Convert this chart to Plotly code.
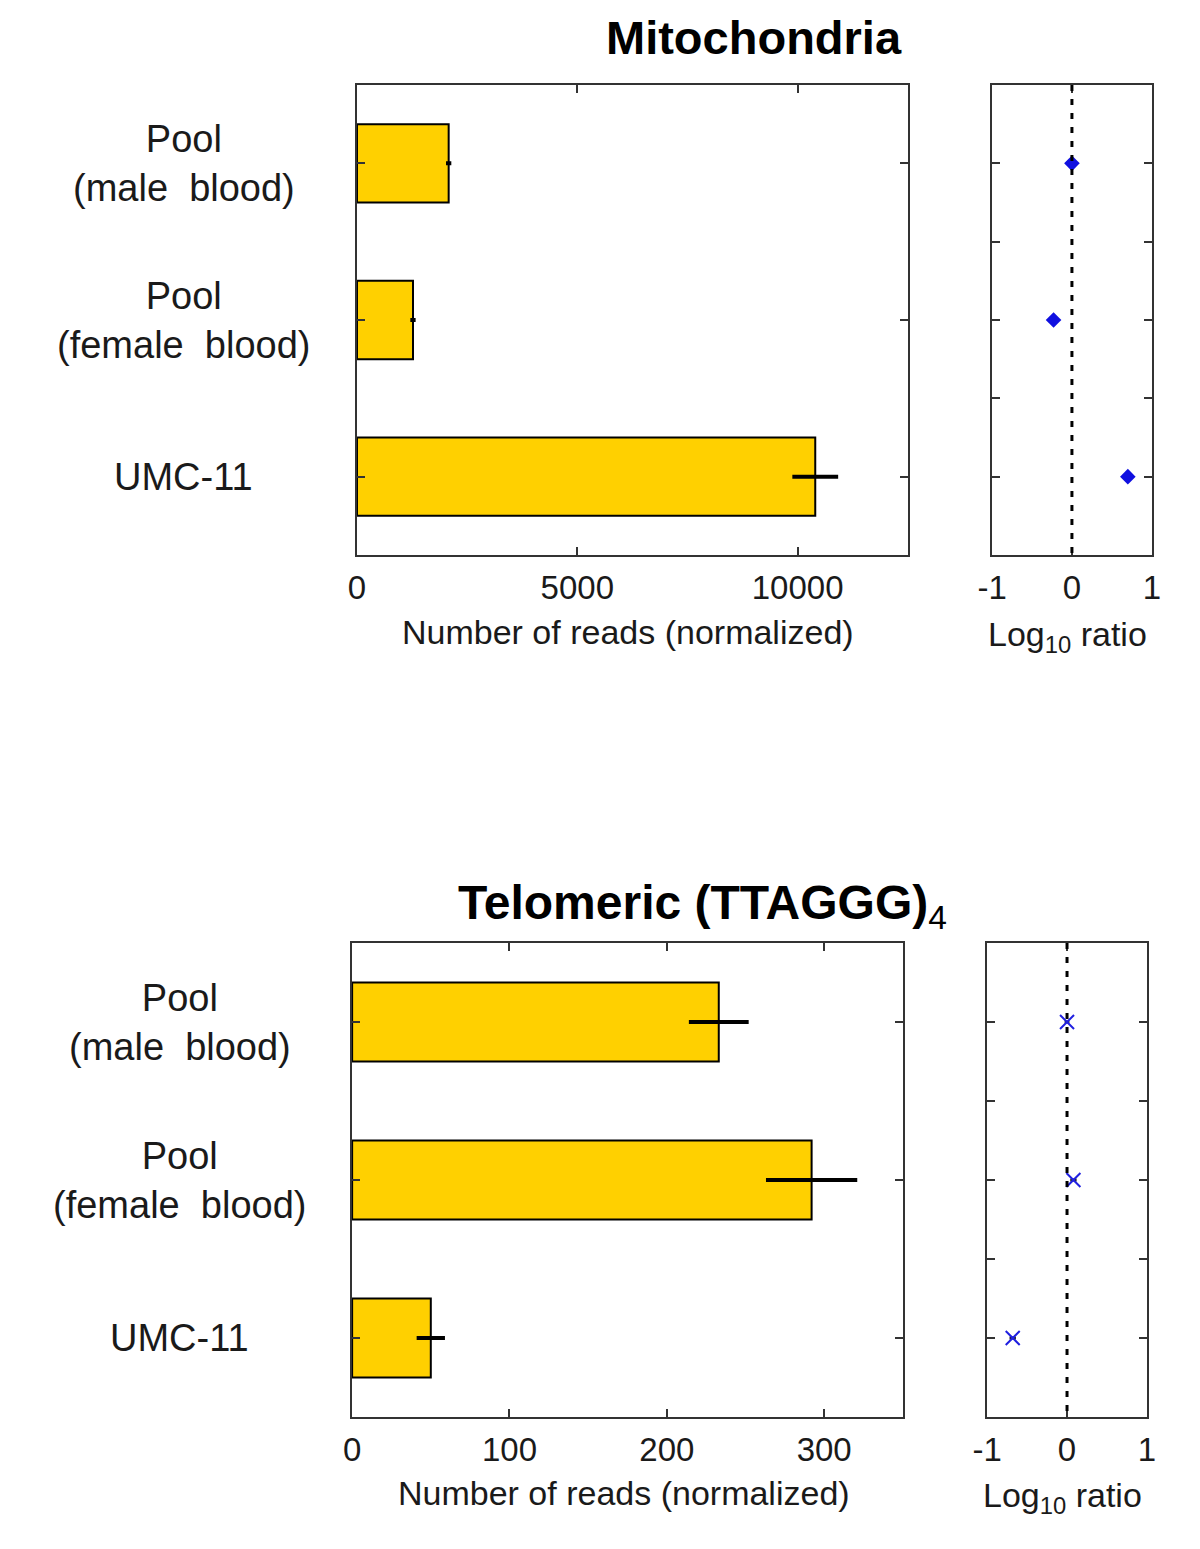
import plotly.graph_objects as go

# ---- data ----
categories = ["Pool<br>(male  blood)", "Pool<br>(female  blood)", "UMC-11"]
cat_pos = [1, 2, 3]

mito_reads = [2080, 1270, 10400]
mito_err = [60, 60, 520]
mito_log = [0.0, -0.23, 0.70]
mito_log_err = [0.03, 0.02, 0.03]

telo_reads = [233, 292, 50]
telo_err = [19, 29, 9]
telo_log = [0.0, 0.08, -0.68]
telo_log_err = [0.03, 0.04, 0.04]

mito_xticks = [0, 5000, 10000]
mito_xtick_text = ["0", "5000", "10000"]
telo_xticks = [0, 100, 200, 300]
telo_xtick_text = ["0", "100", "200", "300"]
log_xticks = [-1, 0, 1]
log_xtick_text = ["-1", "0", "1"]

BAR_COLOR = "#FFD000"
FRAME = "#333333"
FONT = "Liberation Sans, Arial, sans-serif"
TXT = "#1a1a1a"

fig = go.Figure()

W, H = 1200, 1549


def px_x(x0, x1):
    return [x0 / W, x1 / W]


def px_y(top, bottom):
    return [1 - bottom / H, 1 - top / H]


def fx(x):
    return x / W


def fy(y):
    return 1 - y / H


# Top bar
fig.add_trace(go.Bar(x=mito_reads, y=cat_pos, orientation="h", width=0.5,
                     marker=dict(color=BAR_COLOR, line=dict(color="black", width=2)),
                     error_x=dict(type="data", array=mito_err, color="black", thickness=4, width=0),
                     xaxis="x", yaxis="y", showlegend=False))
# Top scatter
fig.add_trace(go.Scatter(x=mito_log, y=cat_pos, mode="markers",
                         marker=dict(symbol="diamond", size=12, color="#1010E0"),
                         error_x=dict(type="data", array=mito_log_err, color="#1010E0", thickness=4, width=0),
                         xaxis="x2", yaxis="y2", showlegend=False))
# Bottom bar
fig.add_trace(go.Bar(x=telo_reads, y=cat_pos, orientation="h", width=0.5,
                     marker=dict(color=BAR_COLOR, line=dict(color="black", width=2)),
                     error_x=dict(type="data", array=telo_err, color="black", thickness=4, width=0),
                     xaxis="x3", yaxis="y3", showlegend=False))
# Bottom scatter
fig.add_trace(go.Scatter(x=telo_log, y=cat_pos, mode="markers",
                         marker=dict(symbol="x-thin", size=14, color="#2020E0",
                                     line=dict(color="#2020E0", width=2)),
                         error_x=dict(type="data", array=telo_log_err, color="#222222", thickness=3, width=0),
                         xaxis="x4", yaxis="y4", showlegend=False))

axis_common = dict(showline=True, linecolor=FRAME, linewidth=2, mirror="ticks",
                   ticks="inside", ticklen=8, tickwidth=2, tickcolor=FRAME,
                   showgrid=False, zeroline=False, layer="above traces",
                   tickfont=dict(family=FONT, size=33, color=TXT))

fig.update_layout(
    width=W, height=H, margin=dict(l=0, r=0, t=0, b=0),
    paper_bgcolor="white", plot_bgcolor="white",
    xaxis=dict(domain=px_x(349, 911), range=[0, 12500], tickvals=mito_xticks,
               ticktext=mito_xtick_text, anchor="y", ticklabelstandoff=2, **axis_common),
    yaxis=dict(domain=px_y(85, 555), range=[3.5, 0.5], tickvals=cat_pos,
               showticklabels=False, anchor="x", **axis_common),
    xaxis2=dict(domain=px_x(997, 1160), range=[-1, 1], tickvals=log_xticks,
                ticktext=log_xtick_text, anchor="y2", ticklabelstandoff=2, **axis_common),
    yaxis2=dict(domain=px_y(85, 555), range=[3.5, 0.5], tickvals=[1, 1.5, 2, 2.5, 3],
                showticklabels=False, anchor="x2", **axis_common),
    xaxis3=dict(domain=px_x(344, 906), range=[0, 350], tickvals=telo_xticks,
                ticktext=telo_xtick_text, anchor="y3", ticklabelstandoff=2, **axis_common),
    yaxis3=dict(domain=px_y(943, 1417), range=[3.5, 0.5], tickvals=cat_pos,
                showticklabels=False, anchor="x3", **axis_common),
    xaxis4=dict(domain=px_x(992, 1155), range=[-1, 1], tickvals=log_xticks,
                ticktext=log_xtick_text, anchor="y4", ticklabelstandoff=2, **axis_common),
    yaxis4=dict(domain=px_y(943, 1417), range=[3.5, 0.5], tickvals=[1, 1.5, 2, 2.5, 3],
                showticklabels=False, anchor="x4", **axis_common),
)

# dashed zero lines
for xa, ya in [("x2", "y2"), ("x4", "y4")]:
    fig.add_shape(type="line", xref=xa, yref=ya, x0=0, x1=0, y0=0.5, y1=3.5,
                  line=dict(color="black", width=3, dash="6px,8px"), layer="above")

ann = []
font_lbl = dict(family=FONT, size=38, color=TXT)
for yref, xc in [("y", 172), ("y3", 168)]:
    for c, p in zip(categories, cat_pos):
        ann.append(dict(text=c, x=fx(xc), xref="paper", y=p, yref=yref,
                        xanchor="center", yanchor="middle", align="center",
                        showarrow=False, font=font_lbl))

font_ax = dict(family=FONT, size=34, color=TXT)
ann += [
    dict(text="Number of reads (normalized)", x=fx(626), y=fy(632), xref="paper", yref="paper",
         xanchor="center", yanchor="middle", showarrow=False, font=font_ax),
    dict(text="Log<sub>10</sub> ratio", x=fx(1074), y=fy(636), xref="paper", yref="paper",
         xanchor="center", yanchor="middle", showarrow=False, font=font_ax),
    dict(text="Number of reads (normalized)", x=fx(621), y=fy(1493), xref="paper", yref="paper",
         xanchor="center", yanchor="middle", showarrow=False, font=font_ax),
    dict(text="Log<sub>10</sub> ratio", x=fx(1069), y=fy(1497), xref="paper", yref="paper",
         xanchor="center", yanchor="middle", showarrow=False, font=font_ax),
    dict(text="<b>Mitochondria</b>", x=fx(754), y=fy(38), xref="paper", yref="paper",
         xanchor="center", yanchor="middle", showarrow=False,
         font=dict(family=FONT, size=47, color="black")),
    dict(text="<b>Telomeric (TTAGGG)</b><sub>4</sub>", x=fx(702), y=fy(906), xref="paper", yref="paper",
         xanchor="center", yanchor="middle", showarrow=False,
         font=dict(family=FONT, size=48, color="black")),
]
fig.update_layout(annotations=ann)

fig.write_html("out.html", config={"displayModeBar": False},
               post_script="document.body.style.margin='0';")
